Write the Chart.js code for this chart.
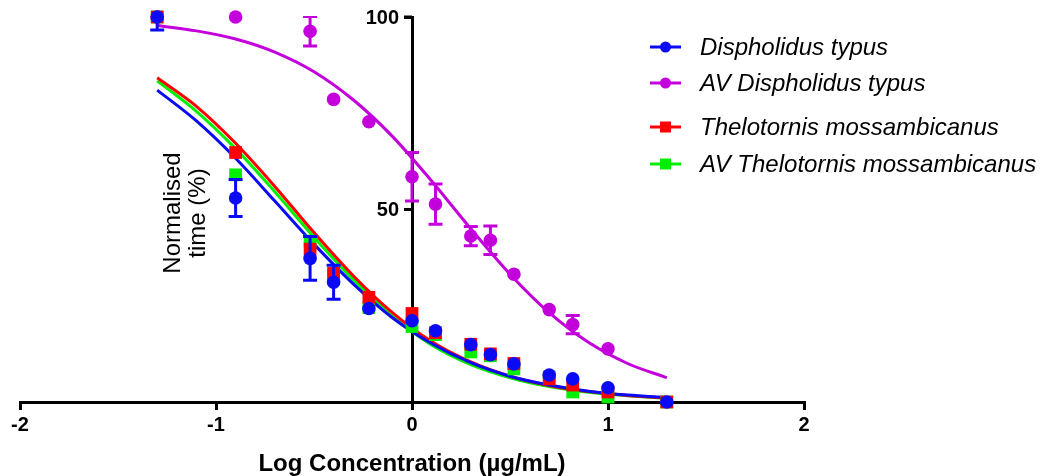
<!DOCTYPE html>
<html>
<head>
<meta charset="utf-8">
<script src="https://cdn.jsdelivr.net/npm/chart.js@4/dist/chart.umd.min.js"></script>
<style>
  html, body { margin: 0; padding: 0; background: #fff; }
  #wrap { width: 1053px; height: 476px; position: relative; }
</style>
</head>
<body>
<div id="wrap"><canvas id="chart"></canvas></div>
<script>
// log doses where points were measured
const doses = [-1.3, -0.9, -0.52, -0.4, -0.22, 0, 0.12, 0.3, 0.4, 0.52, 0.7, 0.82, 1.0, 1.3];

const dtVals = [100, 53.0, 37.3, 31.1, 24.3, 21.1, 18.5, 14.9, 12.3, 9.9, 7.0, 6.0, 3.7, 0];
const dtErr  = [3.4, 4.8, 5.7, 4.4, 0, 0, 0, 0, 0, 0, 0, 0, 0, 0];
const avDtVals = [100, 100, 96.3, 78.6, 72.8, 58.5, 51.4, 43.1, 42.0, 33.2, 24.0, 20.1, 13.8, null];
const avDtErr  = [0, 0, 3.8, 0, 0, 6.3, 5.2, 2.5, 3.7, 0, 0, 2.4, 0, 0];
const tmVals = [100, 64.8, 39.7, 33.4, 27.2, 23.0, 18.0, 15.0, 12.5, 10.0, 6.0, 4.4, 2.6, 0];
const avTmVals = [100, 59.0, 41.8, 33.0, 24.5, 19.6, 17.5, 13.0, 12.0, 8.6, 6.5, 2.6, 1.3, 0];

// fitted curves
const fitX = [-1.3, -1.1, -0.9, -0.7, -0.5, -0.3, -0.1, 0.1, 0.3, 0.5, 0.7, 0.9, 1.1, 1.3];
const dtFit   = [81.0, 73.0, 63.3, 52.2, 41.0, 30.7, 21.9, 15.2, 10.2, 6.7, 4.4, 2.8, 1.8, 1.2];
const avDtFit = [97.8, 96.4, 94.3, 90.9, 85.8, 78.5, 69.0, 57.4, 45.0, 33.2, 23.2, 15.5, 10.0, 6.3];
const tmFit   = [84.2, 76.8, 67.2, 56.0, 44.0, 32.8, 23.2, 15.7, 10.4, 6.7, 4.3, 2.7, 1.7, 1.0];
const avTmFit = [83.4, 75.5, 65.8, 54.6, 42.8, 31.8, 22.3, 14.8, 9.7, 6.3, 4.0, 2.5, 1.6, 1.0];

const xTicks = [-2, -1, 0, 1, 2];
const yTicks = [50, 100];

const names = ['Dispholidus typus', 'AV Dispholidus typus', 'Thelotornis mossambicanus', 'AV Thelotornis mossambicanus'];
const colors = ['#0a0af5', '#c300dc', '#ff0000', '#00ee00'];
const shapes = ['circle', 'circle', 'rect', 'rect'];

const FONT = 'Arial, "Liberation Sans", sans-serif';
const pts = (xs, ys) => xs.map((x, i) => ({ x: x, y: ys[i] })).filter(p => p.y !== null);

function curve(ys, color, order) {
  return {
    data: pts(fitX, ys), borderColor: color, borderWidth: 3, pointRadius: 0,
    cubicInterpolationMode: 'monotone', showLine: true, fill: false, order: order
  };
}
function markers(ys, errs, color, shape, order) {
  return {
    data: pts(doses, ys), showLine: false, pointStyle: shape,
    pointRadius: shape === 'rect' ? 9 : 6.8, pointBorderWidth: 0,
    backgroundColor: color, borderColor: color, clip: false, order: order,
    errors: errs
  };
}

const datasets = [
  curve(avDtFit, colors[1], 9),
  curve(avTmFit, colors[3], 8),
  curve(tmFit, colors[2], 7),
  curve(dtFit, colors[0], 6),
  markers(avDtVals, avDtErr, colors[1], 'circle', 5),
  markers(avTmVals, null, colors[3], 'rect', 4),
  markers(tmVals, null, colors[2], 'rect', 3),
  markers(dtVals, dtErr, colors[0], 'circle', 2)
];

// error bars drawn right after their dataset
const errorBars = {
  id: 'errorBars',
  afterDatasetDraw(chart, args) {
    const ds = chart.data.datasets[args.index];
    if (!ds.errors) return;
    const ctx = chart.ctx, xs = chart.scales.x, ys = chart.scales.y, a = chart.chartArea;
    ctx.save();
    ctx.beginPath();
    ctx.rect(a.left - 10, a.top - 1, a.right - a.left + 20, a.bottom - a.top + 10);
    ctx.clip();
    ctx.strokeStyle = ds.borderColor;
    ctx.lineWidth = 3;
    ds.data.forEach((p, i) => {
      const e = ds.errors[i];
      if (!e) return;
      const px = xs.getPixelForValue(p.x);
      const hi = ys.getPixelForValue(p.y + e), lo = ys.getPixelForValue(p.y - e);
      ctx.beginPath();
      ctx.moveTo(px, hi); ctx.lineTo(px, lo);
      ctx.moveTo(px - 7, hi); ctx.lineTo(px + 7, hi);
      ctx.moveTo(px - 7, lo); ctx.lineTo(px + 7, lo);
      ctx.stroke();
    });
    ctx.restore();
  }
};

const extras = {
  id: 'extras',
  afterDraw(chart) {
    const ctx = chart.ctx;
    const xs = chart.scales.x, ys = chart.scales.y;

    // y ticks and labels, left of the axis that crosses at x = 0
    ctx.save();
    ctx.fillStyle = '#000';
    ctx.strokeStyle = '#000';
    ctx.lineWidth = 3;
    ctx.font = 'bold 20px ' + FONT;
    ctx.textAlign = 'right';
    ctx.textBaseline = 'middle';
    const ax = xs.getPixelForValue(0);
    yTicks.forEach(v => {
      const py = ys.getPixelForValue(v);
      ctx.beginPath(); ctx.moveTo(ax - 8, py); ctx.lineTo(ax, py); ctx.stroke();
      ctx.fillText(String(v), ax - 13, py + 1);
    });
    ctx.restore();

    // y axis title
    ctx.save();
    ctx.translate(186, 213);
    ctx.rotate(-Math.PI / 2);
    ctx.fillStyle = '#000';
    ctx.font = '24px ' + FONT;
    ctx.textAlign = 'center';
    ctx.textBaseline = 'alphabetic';
    ctx.fillText('Normalised', 0, -6);
    ctx.fillText('time (%)', 0, 19);
    ctx.restore();

    // legend
    const rows = [47, 83, 127, 164];
    ctx.save();
    ctx.font = 'italic 24px ' + FONT;
    ctx.textBaseline = 'middle';
    names.forEach((n, i) => {
      const y = rows[i];
      ctx.strokeStyle = colors[i];
      ctx.fillStyle = colors[i];
      ctx.lineWidth = 3;
      ctx.beginPath();
      ctx.moveTo(650, y); ctx.lineTo(681, y);
      ctx.stroke();
      if (shapes[i] === 'circle') {
        ctx.beginPath(); ctx.arc(665.5, y, 5.5, 0, Math.PI * 2); ctx.fill();
      } else {
        ctx.fillRect(660, y - 5.5, 11, 11);
      }
      ctx.fillStyle = '#000';
      ctx.fillText(n, 700, y + 1);
    });
    ctx.restore();
  }
};

new Chart(document.getElementById('chart'), {
  type: 'scatter',
  data: { datasets: datasets },
  plugins: [errorBars, extras],
  options: {
    responsive: true,
    maintainAspectRatio: false,
    animation: false,
    layout: { padding: { left: 20, right: 249, top: 17, bottom: 0 } },
    plugins: { legend: { display: false }, tooltip: { enabled: false } },
    scales: {
      x: {
        type: 'linear', min: -2, max: 2,
        afterBuildTicks: s => { s.ticks = xTicks.map(v => ({ value: v })); },
        grid: { drawOnChartArea: false, drawTicks: true, tickLength: 8, color: '#000', lineWidth: 3 },
        border: { display: true, color: '#000', width: 3 },
        ticks: { color: '#000', padding: 3, maxRotation: 0, font: { family: FONT, size: 20, weight: 'bold' } },
        title: {
          display: true, text: 'Log Concentration (µg/mL)', color: '#000',
          padding: { top: 12, bottom: 0 },
          font: { family: FONT, size: 24, weight: 'bold', lineHeight: 1.0 }
        }
      },
      y: {
        type: 'linear', min: 0, max: 100,
        position: { x: 0 },
        afterBuildTicks: s => { s.ticks = yTicks.map(v => ({ value: v })); },
        grid: { drawOnChartArea: false, drawTicks: true, tickLength: 7, color: '#000', lineWidth: 3 },
        border: { display: true, color: '#000', width: 3 },
        ticks: { display: false }
      }
    }
  }
});
</script>
</body>
</html>
